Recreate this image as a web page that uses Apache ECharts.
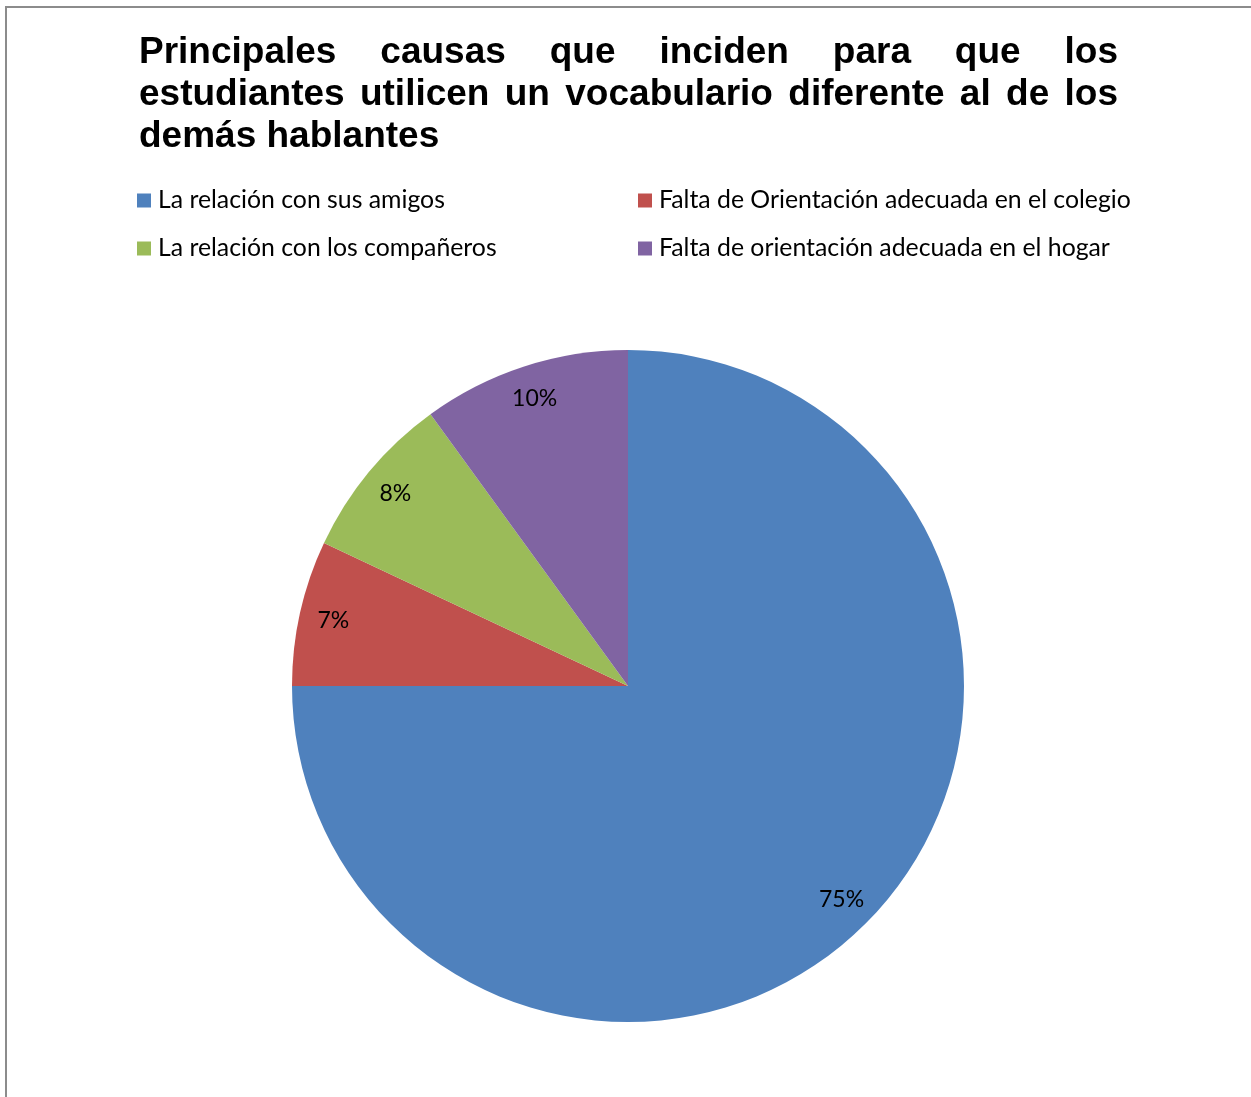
<!DOCTYPE html>
<html>
<head>
<meta charset="utf-8">
<script src="https://cdn.jsdelivr.net/npm/echarts@6/dist/echarts.min.js"></script>
<style>
html,body{margin:0;padding:0;background:#fff;}
#chart{width:1251px;height:1097px;}
</style>
</head>
<body>
<div id="chart"></div>
<script>
// ---- data ----
var titleLines = [
  "Principales causas que inciden para que los",
  "estudiantes utilicen un vocabulario diferente al de los",
  "demás hablantes"
];
var categories = [
  "La relación con sus amigos",
  "Falta de Orientación adecuada en el colegio",
  "La relación con los compañeros",
  "Falta de orientación adecuada en el hogar"
];
var values = [75, 7, 8, 10];
var colors = ["#4F81BD", "#C0504D", "#9BBB59", "#8064A2"];

// ---- build ----
var chart = echarts.init(document.getElementById('chart'));
var TITLE_FONT = 'bold 37px "Liberation Sans", Arial, sans-serif';
var LABEL_FONT_FAMILY = 'Lato, "Open Sans", sans-serif';

var ctx = document.createElement('canvas').getContext('2d');
ctx.font = TITLE_FONT;
function justifyLine(text, x0, x1, y, justify) {
  var words = text.split(' ');
  var widths = words.map(function (w) { return ctx.measureText(w).width; });
  var total = widths.reduce(function (a, b) { return a + b; }, 0);
  var gap = justify && words.length > 1 ? (x1 - x0 - total) / (words.length - 1) : ctx.measureText(' ').width;
  var els = [];
  var x = x0;
  words.forEach(function (w, i) {
    els.push({
      type: 'text', x: x, y: y, silent: true,
      style: { text: w, font: TITLE_FONT, fill: '#000', verticalAlign: 'middle', align: 'left' }
    });
    x += widths[i] + gap;
  });
  return els;
}

var graphics = [{
  type: 'rect', silent: true, z: -1,
  shape: { x: 6, y: 7, width: 1400, height: 1300 },
  style: { fill: 'none', stroke: '#8c8c8c', lineWidth: 2 }
}];
graphics = graphics.concat(justifyLine(titleLines[0], 139, 1118, 53, true));
graphics = graphics.concat(justifyLine(titleLines[1], 139, 1118, 95, true));
graphics = graphics.concat(justifyLine(titleLines[2], 139, 1118, 137, false));

var legendPos = [[137, 188], [638, 188], [137, 236], [638, 236]];
var legends = categories.map(function (c, i) {
  return {
    data: [{ name: c, itemStyle: { color: colors[i] } }],
    left: legendPos[i][0], top: legendPos[i][1],
    orient: 'horizontal', icon: 'rect', itemWidth: 14, itemHeight: 14, itemGap: 7,
    padding: 0,
    textStyle: { fontFamily: LABEL_FONT_FAMILY, fontSize: 24.8, color: '#000', lineHeight: 24, padding: [0, 0, 0, 2] }
  };
});

var pieData = categories.map(function (c, i) {
  return { name: c, value: values[i], itemStyle: { color: colors[i] } };
});

chart.setOption({
  animation: false,
  backgroundColor: '#fff',
  legend: legends,
  graphic: graphics,
  series: [{
    type: 'pie',
    center: [628, 686],
    radius: [0, 336],
    startAngle: 90,
    clockwise: true,
    label: { show: false },
    labelLine: { show: false },
    emphasis: { disabled: true },
    data: pieData
  }, {
    type: 'pie',
    center: [628, 686],
    radius: [0, 598],
    startAngle: 90,
    clockwise: true,
    silent: true,
    z: 5,
    itemStyle: { color: 'rgba(0,0,0,0)' },
    label: {
      show: true, position: 'inside',
      formatter: function (p) { return p.value + '%'; },
      fontFamily: LABEL_FONT_FAMILY, fontSize: 23, color: '#000'
    },
    labelLine: { show: false },
    emphasis: { disabled: true },
    data: categories.map(function (c, i) { return { name: c, value: values[i] }; })
  }]
});
</script>
</body>
</html>
